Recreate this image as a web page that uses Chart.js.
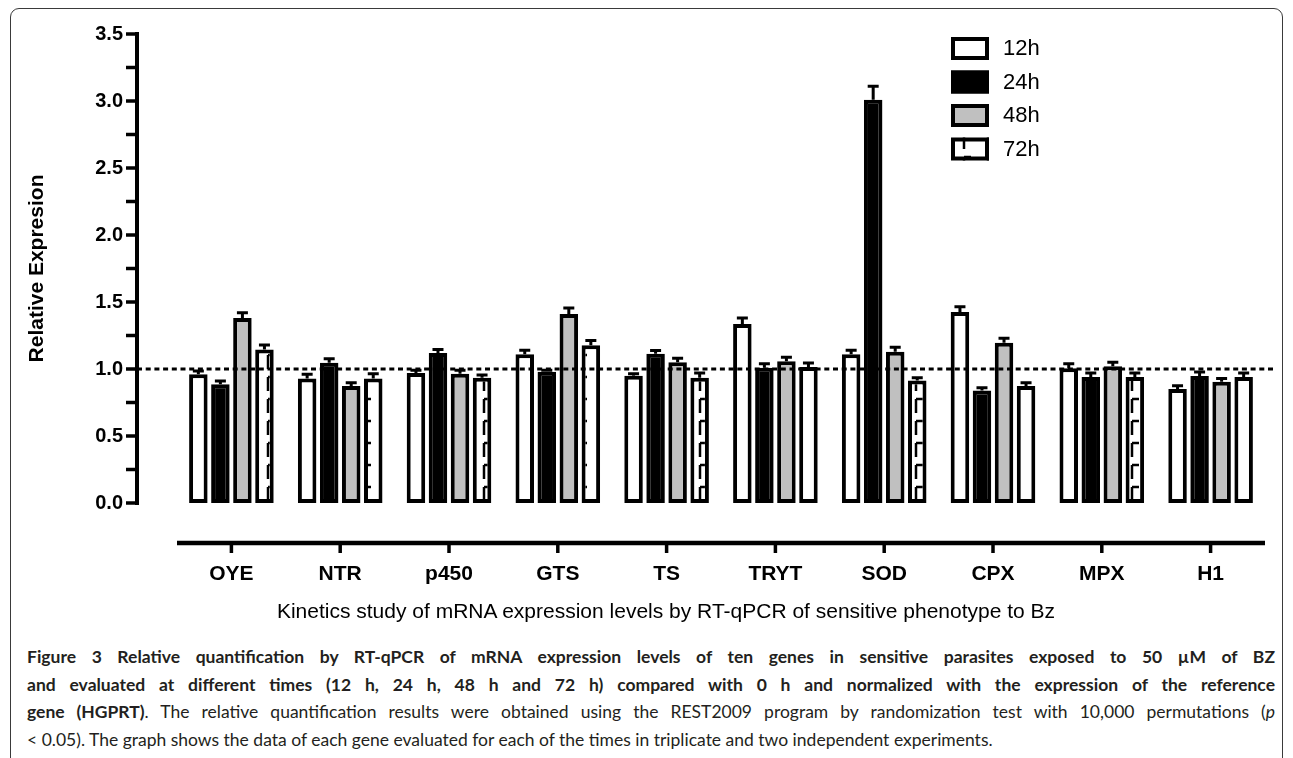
<!DOCTYPE html>
<html>
<head>
<meta charset="utf-8">
<script src="https://cdn.jsdelivr.net/npm/chart.js@4.4.0/dist/chart.umd.min.js"></script>
<style>
  html, body { margin: 0; padding: 0; background: #fff; }
  body { width: 1293px; height: 758px; position: relative; overflow: hidden; }
  .frame {
    position: absolute; left: 10px; top: 8px; width: 1271px; height: 800px;
    border: 1.5px solid #3a3a3a; border-radius: 9px;
  }
  .chart-box { position: absolute; left: 0; top: 0; width: 1293px; height: 640px; }
  .x-title {
    position: absolute; left: 266px; width: 800px; top: 599px; text-align: center;
    font-family: "Liberation Sans", Arial, sans-serif; font-size: 21px; color: #000;
  }
  .caption {
    position: absolute; left: 27px; top: 643px; width: 1248px;
    font-family: Lato, "Open Sans", sans-serif; font-size: 17.5px; color: #231f20;
    line-height: 27.5px;
  }
  .caption div { text-align: justify; text-align-last: justify; white-space: nowrap; }
  .caption div.last { text-align-last: left; }
  .caption b { font-weight: 700; }
</style>
</head>
<body>
<div class="frame"></div>
<div class="chart-box"><canvas id="kineticsChart"></canvas></div>
<div class="x-title" id="xTitle"></div>
<div class="caption">
  <div><b>Figure 3 Relative quantification by RT-qPCR of mRNA expression levels of ten genes in sensitive parasites exposed to 50 µM of BZ</b></div>
  <div><b>and evaluated at different times (12 h, 24 h, 48 h and 72 h) compared with 0 h and normalized with the expression of the reference</b></div>
  <div><b>gene (HGPRT)</b>. The relative quantification results were obtained using the REST2009 program by randomization test with 10,000 permutations (<i>p</i></div>
  <div class="last">&lt; 0.05). The graph shows the data of each gene evaluated for each of the times in triplicate and two independent experiments.</div>
</div>
<script>
const genes = ['OYE', 'NTR', 'p450', 'GTS', 'TS', 'TRYT', 'SOD', 'CPX', 'MPX', 'H1'];
const seriesNames = ['12h', '24h', '48h', '72h'];

// mean relative expression
const values12h = [0.96, 0.93, 0.97, 1.11, 0.95, 1.335, 1.11, 1.425, 1.005, 0.85];
const values24h = [0.886, 1.046, 1.12, 0.98, 1.113, 1.01, 3.01, 0.84, 0.94, 0.947];
const values48h = [1.38, 0.873, 0.965, 1.41, 1.05, 1.058, 1.128, 1.195, 1.02, 0.905];
const values72h = [1.145, 0.93, 0.935, 1.177, 0.935, 1.015, 0.915, 0.873, 0.94, 0.94];

// upper error (SEM)
const err12h = [0.025, 0.03, 0.02, 0.03, 0.015, 0.045, 0.03, 0.04, 0.035, 0.025];
const err24h = [0.025, 0.03, 0.025, 0.01, 0.025, 0.03, 0.1, 0.02, 0.03, 0.03];
const err48h = [0.04, 0.025, 0.025, 0.045, 0.03, 0.03, 0.034, 0.035, 0.03, 0.025];
const err72h = [0.035, 0.035, 0.02, 0.035, 0.035, 0.03, 0.02, 0.025, 0.03, 0.03];

const yTicksMin = 0;
const yTicksMax = 3.5;
const yTickStep = 0.25;
const yLabelStep = 0.5;
const baseline = 1.0;

const yTitle = 'Relative Expresion';
const xTitle = 'Kinetics study of mRNA expression levels by RT-qPCR of sensitive phenotype to Bz';

const AXIS_GAP = 40;
const FONT = '"Liberation Sans", Arial, sans-serif';

document.getElementById('xTitle').textContent = xTitle;

// hatch used by the 72h series
const makePattern = () => {
  const tile = document.createElement('canvas');
  tile.width = 24;
  tile.height = 22;
  const c = tile.getContext('2d');
  c.fillStyle = '#fff';
  c.fillRect(0, 0, 24, 22);
  c.strokeStyle = '#000';
  c.lineWidth = 2.5;
  c.beginPath();
  c.moveTo(4, 3); c.lineTo(4, 17);
  c.moveTo(4, 3); c.lineTo(11, 3);
  c.stroke();
  return document.createElement('canvas').getContext('2d').createPattern(tile, 'repeat');
};

const fills = ['#ffffff', '#000000', '#c0c0c0', makePattern()];
const allValues = [values12h, values24h, values48h, values72h];
const allErrors = [err12h, err24h, err48h, err72h];

// offset axes, Prism style
const axesPlugin = {
  id: 'prismAxes',
  afterDraw(chart) {
    const { ctx, chartArea, scales: { x, y } } = chart;
    const ax = chartArea.left - AXIS_GAP;
    const ay = chartArea.bottom + AXIS_GAP;
    ctx.save();
    ctx.strokeStyle = '#000';
    ctx.lineWidth = 4;
    ctx.lineCap = 'square';
    ctx.beginPath();
    ctx.moveTo(ax, y.getPixelForValue(yTicksMin));
    ctx.lineTo(ax, y.getPixelForValue(yTicksMax));
    ctx.stroke();
    ctx.lineCap = 'butt';
    ctx.lineWidth = 3.5;
    y.ticks.forEach(t => {
      const py = y.getPixelForValue(t.value);
      ctx.beginPath();
      ctx.moveTo(ax - 11, py);
      ctx.lineTo(ax, py);
      ctx.stroke();
    });
    ctx.lineWidth = 4.5;
    ctx.beginPath();
    ctx.moveTo(chartArea.left, ay);
    ctx.lineTo(chartArea.right, ay);
    ctx.stroke();
    ctx.lineWidth = 3.5;
    genes.forEach((g, i) => {
      const px = x.getPixelForValue(i);
      ctx.beginPath();
      ctx.moveTo(px, ay);
      ctx.lineTo(px, ay + 10);
      ctx.stroke();
    });
    ctx.restore();
  }
};

const errorBarPlugin = {
  id: 'errorBars',
  afterDatasetsDraw(chart) {
    const { ctx, scales: { y } } = chart;
    ctx.save();
    ctx.strokeStyle = '#000';
    ctx.lineWidth = 3;
    chart.data.datasets.forEach((ds, i) => {
      const meta = chart.getDatasetMeta(i);
      meta.data.forEach((bar, j) => {
        const top = y.getPixelForValue(allValues[i][j] + allErrors[i][j]);
        ctx.beginPath();
        ctx.moveTo(bar.x, bar.y);
        ctx.lineTo(bar.x, top);
        ctx.moveTo(bar.x - 5.5, top);
        ctx.lineTo(bar.x + 5.5, top);
        ctx.stroke();
      });
    });

    // dotted line at 1.0
    const ly = y.getPixelForValue(baseline);
    ctx.lineWidth = 3;
    ctx.setLineDash([5, 3.7]);
    ctx.beginPath();
    ctx.moveTo(chart.chartArea.left - AXIS_GAP, ly);
    ctx.lineTo(chart.chartArea.right + 10, ly);
    ctx.stroke();
    ctx.restore();
  }
};

const legendPlugin = {
  id: 'boxLegend',
  afterDraw(chart) {
    const { ctx, chartArea } = chart;
    const left = chartArea.right - 314;
    const top = chartArea.top + 3;
    ctx.save();
    chart.data.datasets.forEach((ds, i) => {
      const by = top + i * 33.5;
      ctx.fillStyle = ds.backgroundColor;
      ctx.fillRect(left, by, 38, 23);
      ctx.strokeStyle = '#000';
      ctx.lineWidth = 4;
      ctx.strokeRect(left + 2, by + 2, 34, 19);
      ctx.fillStyle = '#000';
      ctx.font = '22px ' + FONT;
      ctx.textBaseline = 'middle';
      ctx.fillText(ds.label, left + 52, by + 12);
    });
    ctx.restore();
  }
};

const ctx = document.getElementById('kineticsChart').getContext('2d');
const kineticsChart = new Chart(ctx, {
  type: 'bar',
  data: {
    labels: genes,
    datasets: seriesNames.map((name, i) => ({
      label: name,
      data: allValues[i],
      backgroundColor: fills[i],
      borderColor: '#000',
      borderWidth: 4,
      borderSkipped: false,
    }))
  },
  options: {
    responsive: true,
    maintainAspectRatio: false,
    animation: false,
    categoryPercentage: 0.81,
    barPercentage: 0.84,
    layout: { padding: { left: 21, right: 28, top: 34, bottom: 0 } },
    plugins: {
      legend: { display: false },
      tooltip: { enabled: false }
    },
    scales: {
      x: {
        grid: { display: false, drawTicks: false },
        border: { display: false },
        ticks: {
          color: '#000',
          padding: 59,
          font: { family: FONT, size: 21, weight: 'bold' }
        },
        afterFit: axis => { axis.height = 137; }
      },
      y: {
        min: yTicksMin,
        max: yTicksMax,
        grid: { display: false, drawTicks: false },
        border: { display: false },
        ticks: {
          stepSize: yTickStep,
          color: '#000',
          padding: 54,
          font: { family: FONT, size: 20, weight: 'bold' },
          callback: v => (Math.abs(v / yLabelStep - Math.round(v / yLabelStep)) < 1e-6 ? v.toFixed(1) : '')
        },
        title: {
          display: true,
          text: yTitle,
          color: '#000',
          padding: { top: 4, bottom: 0 },
          font: { family: FONT, size: 21, weight: 'bold' }
        },
        // the label padding would otherwise push the plot area down
        afterFit: axis => {
          axis.width = 156;
          axis.paddingTop = 12;
          axis.paddingBottom = 12;
        }
      }
    }
  },
  plugins: [axesPlugin, errorBarPlugin, legendPlugin]
});
</script>
</body>
</html>
